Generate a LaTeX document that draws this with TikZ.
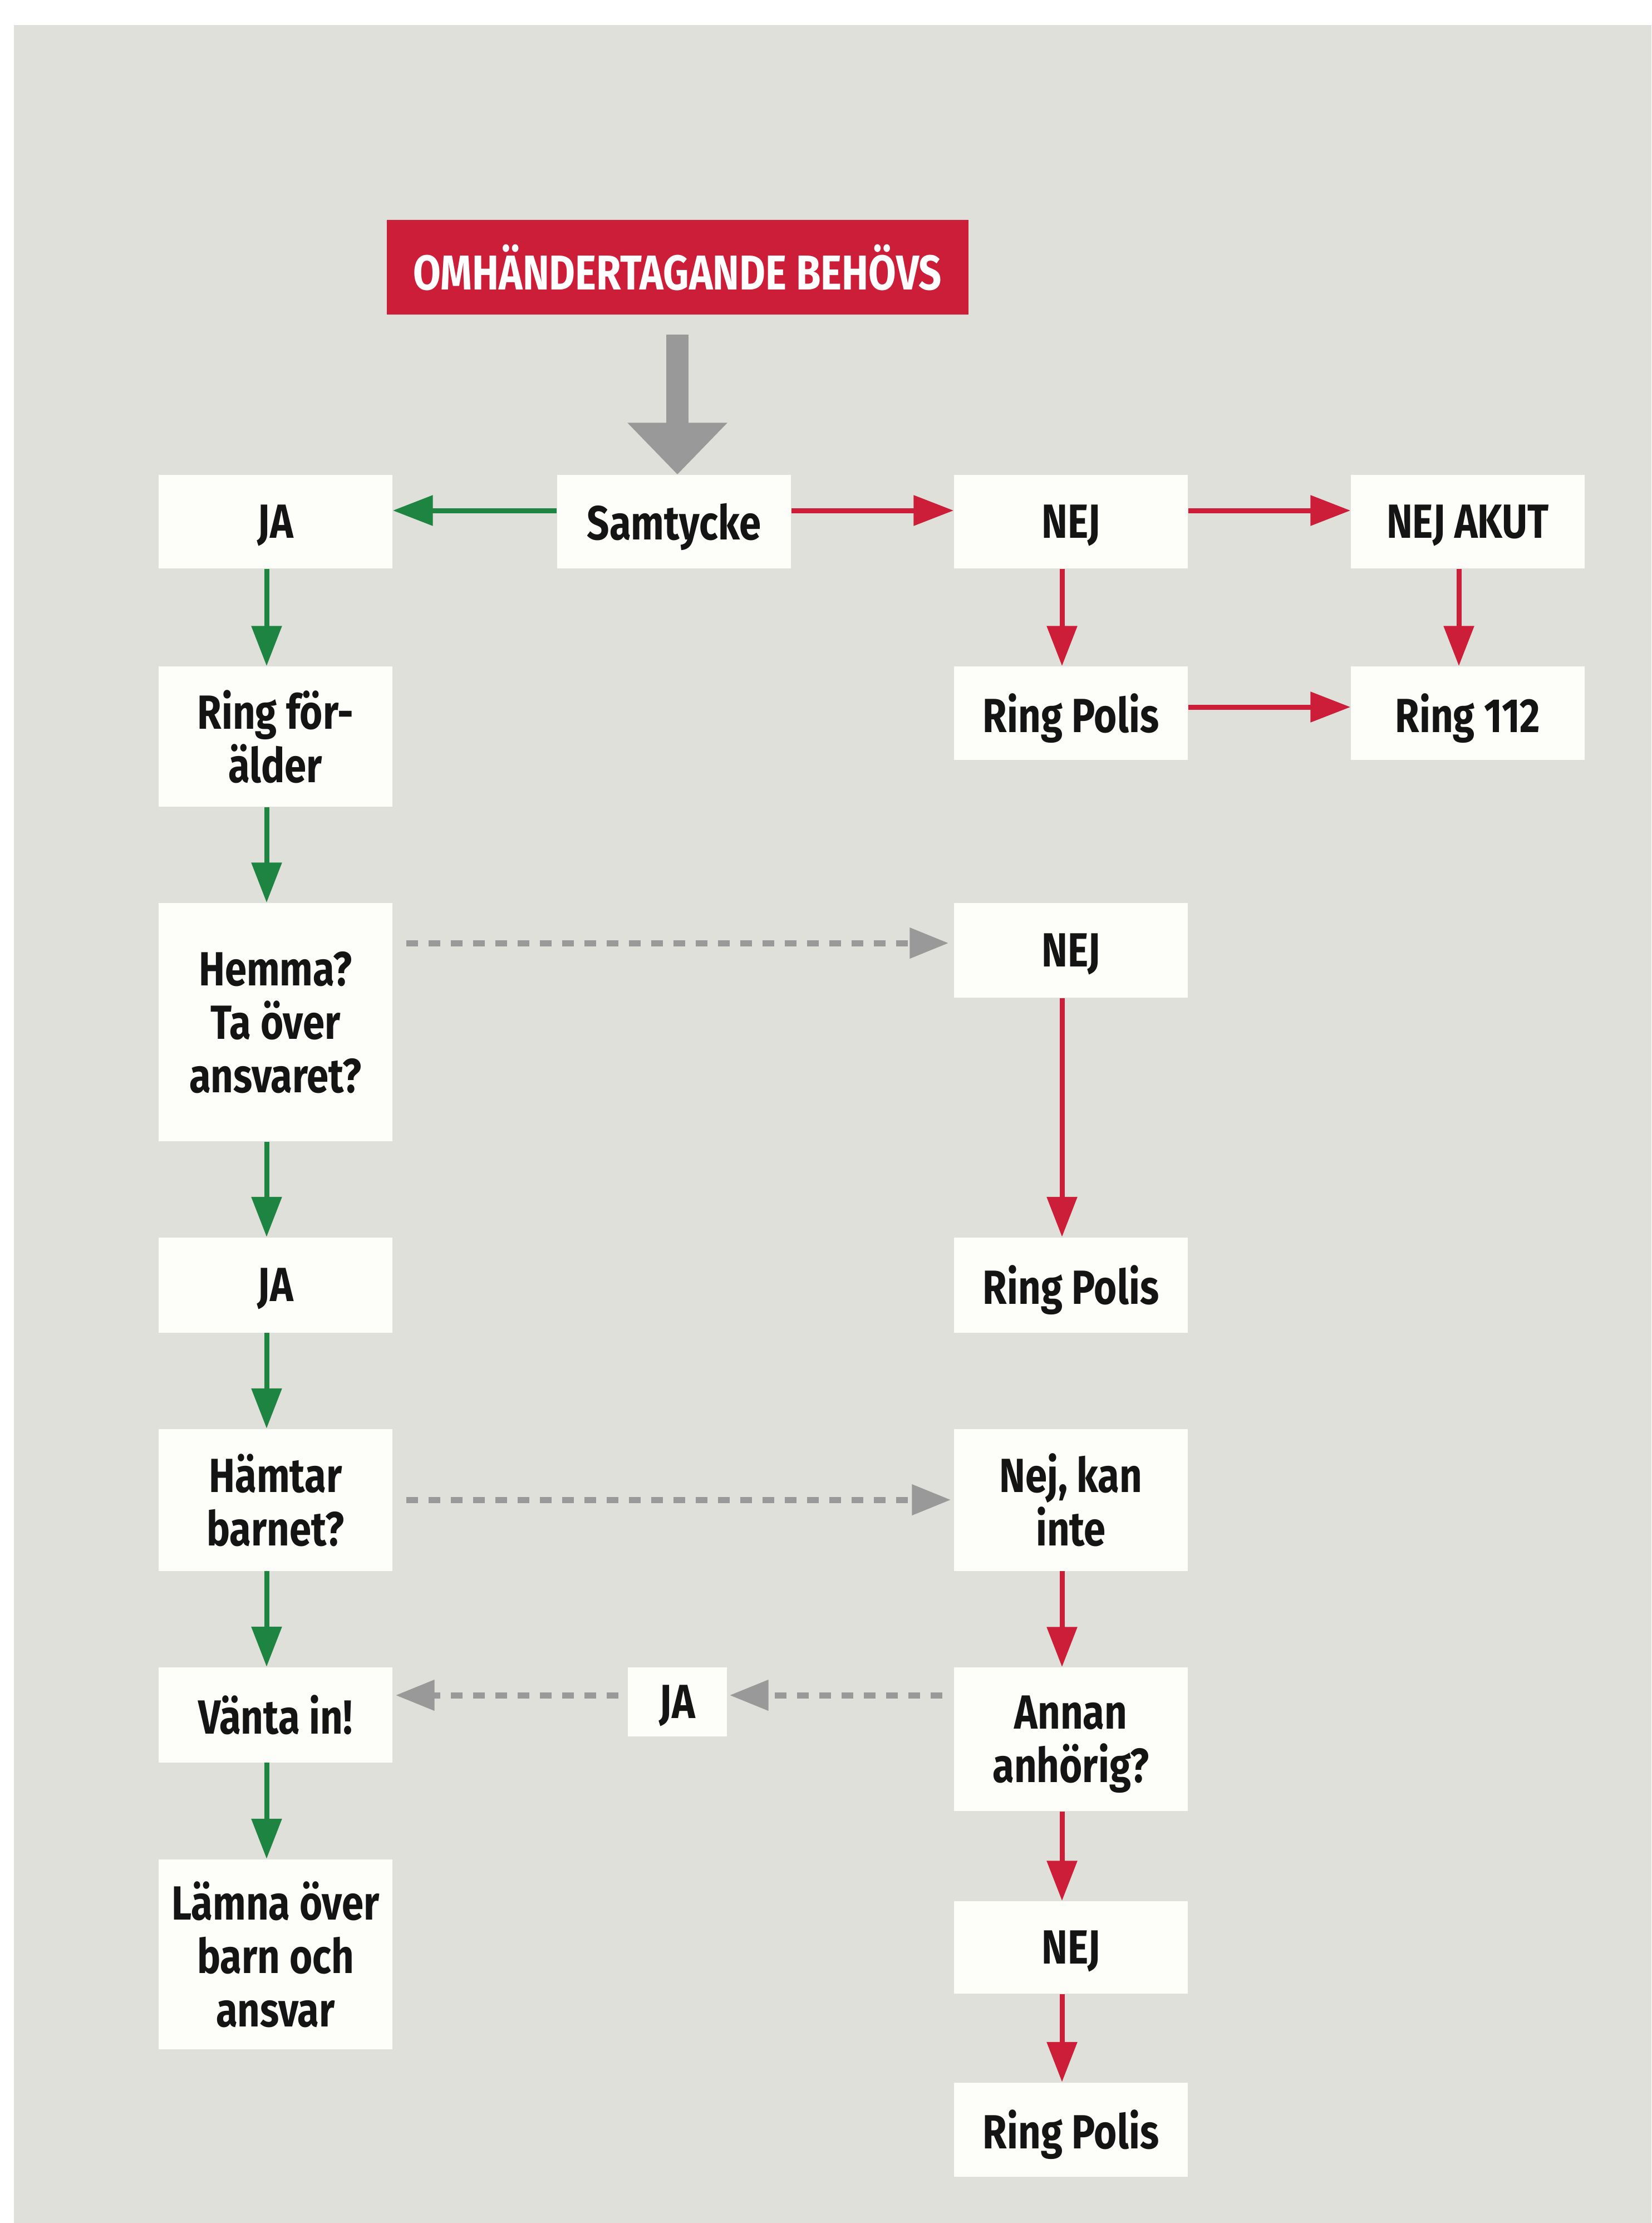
\documentclass[tikz,border=0pt]{standalone}
\usepackage{fontspec}
\newfontfamily\lab{Fira Sans}[FakeStretch=0.82]
\usetikzlibrary{arrows.meta}
\definecolor{bgc}{HTML}{E0E0DB}
\definecolor{boxc}{HTML}{FDFEFA}
\definecolor{redc}{HTML}{CD1E39}
\definecolor{grn}{HTML}{1E8441}
\definecolor{gry}{HTML}{999999}
\definecolor{txt}{HTML}{141414}
\begin{document}
\begin{tikzpicture}[
  box/.style={rectangle, fill=boxc, inner sep=0pt, minimum width=4.2cm, align=center, text=txt,
    text depth=0pt, font=\lab\bfseries\fontsize{24.5}{27.3}\selectfont},
  titlebox/.style={rectangle, fill=redc, inner sep=0pt, minimum width=10.45cm, minimum height=1.7cm,
    text=white, text depth=0pt, font=\lab\bfseries\fontsize{25}{28}\selectfont},
  garrow/.style={draw=grn, line width=0.9mm, -{Triangle[length=7.2mm,width=5.3mm]}},
  rarrow/.style={draw=redc, line width=0.9mm, -{Triangle[length=7.2mm,width=5.3mm]}},
  darrow/.style={draw=gry, line width=1.1mm, dash pattern=on 2.1mm off 1.9mm, -{Triangle[length=7mm,width=5.3mm]}},
  bigarrow/.style={draw=gry, line width=4mm, -{Triangle[length=9.3mm,width=17.4mm]}}
]
\useasboundingbox (0,0) rectangle (29.67,-39.93);
\fill[white] (0,0) rectangle (29.67,-39.93);
\fill[bgc] (0.25,-0.45) rectangle (29.67,-39.93);

\node[titlebox] (title) at (12.17,-4.80) {OMHÄNDERTAGANDE BEHÖVS};

\node[box, minimum height=1.68cm] (ja1) at (4.95,-9.37) {JA};
\node[box, minimum height=1.68cm] (samt) at (12.11,-9.37) {Samtycke};
\node[box, minimum height=1.68cm] (nej1) at (19.24,-9.37) {NEJ};
\node[box, minimum height=1.68cm] (nejakut) at (26.37,-9.37) {NEJ AKUT};

\node[box, minimum height=2.52cm] (ringfor) at (4.95,-13.23) {Ring för-\\älder};
\node[box, minimum height=1.68cm] (ringpol1) at (19.24,-12.81) {Ring Polis};
\node[box, minimum height=1.68cm] (ring112) at (26.37,-12.81) {Ring 112};

\node[box, minimum height=4.28cm] (hemma) at (4.95,-18.36) {Hemma?\\Ta över\\ansvaret?};
\node[box, minimum height=1.70cm] (nej2) at (19.24,-17.07) {NEJ};

\node[box, minimum height=1.71cm] (ja2) at (4.95,-23.08) {JA};
\node[box, minimum height=1.71cm] (ringpol2) at (19.24,-23.08) {Ring Polis};

\node[box, minimum height=2.55cm] (hamtar) at (4.95,-26.94) {Hämtar\\barnet?};
\node[box, minimum height=2.55cm] (nejkan) at (19.24,-26.94) {Nej, kan\\inte};

\node[box, minimum height=1.71cm] (vanta) at (4.95,-30.80) {Vänta in!};
\node[box, minimum width=1.78cm, minimum height=1.24cm] (jasmall) at (12.17,-30.57) {JA};
\node[box, minimum height=2.58cm] (annan) at (19.24,-31.24) {Annan\\anhörig?};

\node[box, minimum height=3.41cm] (lamna) at (4.95,-35.10) {Lämna över\\barn och\\ansvar};
\node[box, minimum height=1.66cm] (nej3) at (19.24,-34.98) {NEJ};
\node[box, minimum height=1.69cm] (ringpol3) at (19.24,-38.25) {Ring Polis};

% big arrow
\draw[bigarrow] ([yshift=-3.5mm]title.south) -- (title.south |- samt.north);

% row 1
\draw[garrow] ([yshift=2mm]samt.west) -- ([yshift=2mm]ja1.east);
\draw[rarrow] ([yshift=2mm]samt.east) -- ([yshift=2mm]nej1.west);
\draw[rarrow] ([yshift=2mm]nej1.east) -- ([yshift=2mm]nejakut.west);
\draw[rarrow] ([xshift=-1.6mm]nej1.south) -- ([xshift=-1.6mm]ringpol1.north);
\draw[rarrow] ([xshift=-1.6mm]nejakut.south) -- ([xshift=-1.6mm]ring112.north);
\draw[rarrow] ([yshift=1.1mm]ringpol1.east) -- ([yshift=1.1mm]ring112.west);

% left column
\draw[garrow] ([xshift=-1.6mm]ja1.south) -- ([xshift=-1.6mm]ringfor.north);
\draw[garrow] ([xshift=-1.6mm]ringfor.south) -- ([xshift=-1.6mm]hemma.north);
\draw[garrow] ([xshift=-1.6mm]hemma.south) -- ([xshift=-1.6mm]ja2.north);
\draw[garrow] ([xshift=-1.6mm]ja2.south) -- ([xshift=-1.6mm]hamtar.north);
\draw[garrow] ([xshift=-1.6mm]hamtar.south) -- ([xshift=-1.6mm]vanta.north);
\draw[garrow] ([xshift=-1.6mm]vanta.south) -- ([xshift=-1.6mm]lamna.north);

% right column
\draw[rarrow] ([xshift=-1.6mm]nej2.south) -- ([xshift=-1.6mm]ringpol2.north);
\draw[rarrow] ([xshift=-1.6mm]nejkan.south) -- ([xshift=-1.6mm]annan.north);
\draw[rarrow] ([xshift=-1.6mm]annan.south) -- ([xshift=-1.6mm]nej3.north);
\draw[rarrow] ([xshift=-1.6mm]nej3.south) -- ([xshift=-1.6mm]ringpol3.north);

% dashed
\draw[darrow] ([xshift=2.4mm,yshift=1.3mm]hemma.east |- nej2.west) -- ([xshift=-0.9mm,yshift=1.3mm]nej2.west);
\draw[darrow] ([xshift=2.4mm]hamtar.east) -- ([xshift=-0.5mm]nejkan.west);
\draw[darrow] ([xshift=-2mm,yshift=1.2mm]annan.west |- jasmall.east) -- ([xshift=0.4mm,yshift=1.2mm]jasmall.east);
\draw[darrow] ([xshift=-1.6mm,yshift=1.2mm]jasmall.west) -- ([xshift=0.5mm,yshift=1.2mm]vanta.east |- jasmall.west);
\end{tikzpicture}
\end{document}
